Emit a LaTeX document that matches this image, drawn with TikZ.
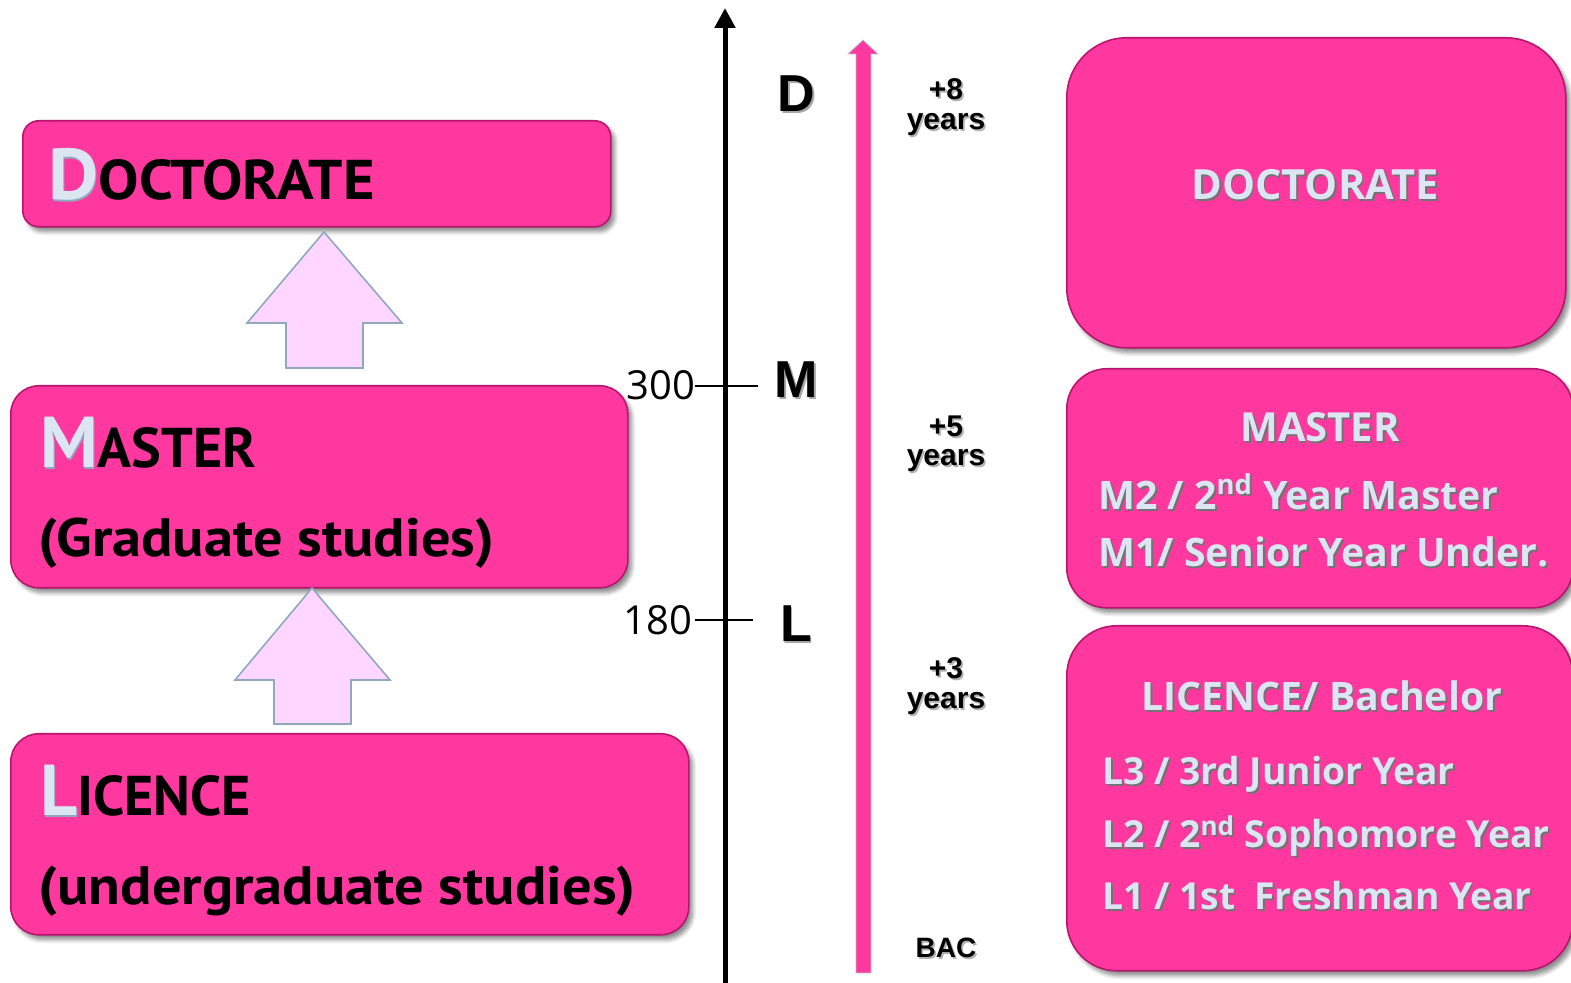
\documentclass[tikz,border=0pt]{standalone}
\usepackage{graphicx}
\usepackage{fontspec}
\setmainfont{PT Sans}
\newfontfamily\rfont{Open Sans}
\newfontfamily\afont{Liberation Sans}
\usetikzlibrary{shadows.blur,arrows.meta}
\definecolor{pinkfill}{HTML}{FF38A0}
\definecolor{pinkedge}{HTML}{B8156E}
\definecolor{lightletter}{HTML}{DCE6F2}
\definecolor{arrowfill}{HTML}{FFD6FF}
\definecolor{arrowedge}{HTML}{8FA8BE}
\newcommand\shtext[2][black!55]{\leavevmode\rlap{\kern0.9pt\raisebox{-0.9pt}{\textcolor{#1}{#2}}}#2}
\newcommand\initl[1]{\leavevmode\rlap{\kern0.6pt\raisebox{-0.6pt}{\textcolor{arrowedge}{#1}}}\textcolor{lightletter}{#1}}
\newcommand\fs[1]{\fontsize{#1}{#1}\selectfont}
\newcommand\wide[1]{\scalebox{1.08}[1]{#1}}
\begin{document}
\begin{tikzpicture}[x=0.5pt,y=-0.5pt,
  pbox/.style={draw=pinkedge, line width=0.8pt, fill=pinkfill, inner sep=0pt, anchor=north west,
    blur shadow={shadow xshift=2pt, shadow yshift=-2.5pt, shadow blur steps=6, shadow opacity=45}},
  ltext/.style={inner sep=0pt, anchor=base west, font=\bfseries},
  rtext/.style={inner sep=0pt, font=\rfont\bfseries\fs{20}, text=lightletter},
  rsmall/.style={rtext, font=\rfont\bfseries\fs{18.6}},
  ttext/.style={inner sep=0pt, anchor=base, font=\afont\bfseries\fs{15}, align=center},
  bigarrow/.style={fill=arrowfill, draw=arrowedge, line width=0.8pt, line join=miter},
]
\useasboundingbox (0,0) rectangle (1571,983);

% ---------- left column ----------
\node[pbox, minimum width=294pt, minimum height=53pt, rounded corners=8pt] (ldoc) at (22,120) {};
\node[pbox, minimum width=308.5pt, minimum height=101pt, rounded corners=14pt] (lmas) at (10,385) {};
\node[pbox, minimum width=339pt, minimum height=100.5pt, rounded corners=14pt] (llic) at (10,733) {};

\node[ltext] (tdoc) at (48,200) {\wide{{\fs{36}\initl{D}}{\fs{28}OCTORATE}}};
\node[ltext] (tmas) at (40,468) {{\fs{36}\initl{M}}{\fs{28}ASTER}};
\node[ltext] (tgrad) at (38,557) {\wide{\fs{27}(Graduate studies)}};
\node[ltext] (tlic) at (40,816) {{\fs{36}\initl{L}}{\fs{28}ICENCE}};
\node[ltext] (tund) at (38,905) {\wide{\fs{27}(undergraduate studies)}};

% block arrows
\coordinate (a1tip) at (324,232);
\draw[bigarrow] (a1tip) -- (402,323) -- (363,323) -- (363,368) -- (286,368) -- (286,323) -- (247,323) -- cycle;
\coordinate (a2tip) at (312,588);
\draw[bigarrow] (a2tip) -- (390,680) -- (351,680) -- (351,724) -- (274,724) -- (274,680) -- (235,680) -- cycle;

% ---------- timeline ----------
\coordinate (axbot) at (725,983);
\coordinate (axtop) at (725,8);
\draw[line width=2.5pt, -{Triangle[length=10pt,width=10pt]}] (axbot) -- (axtop);

\coordinate (t300a) at (695,386);
\coordinate (t300b) at (758,386);
\draw[line width=1pt] (t300a) -- (t300b);
\coordinate (t180a) at (695,620);
\coordinate (t180b) at (753,620);
\draw[line width=1pt] (t180a) -- (t180b);

\node[inner sep=0pt, anchor=base east, font=\rfont\fs{20}] (n300) at (696,400) {300};
\node[inner sep=0pt, anchor=base east, font=\rfont\fs{20}] (n180) at (693,635) {180};

\node[ttext, font=\afont\bfseries\fs{26}] (lD) at (796,112) {\shtext[black!35]{D}};
\node[ttext, font=\afont\bfseries\fs{26}] (lM) at (796,398) {\shtext[black!35]{M}};
\node[ttext, font=\afont\bfseries\fs{26}] (lL) at (796,642) {\shtext[black!35]{L}};

% pink arrow
\coordinate (pbot) at (863,973);
\coordinate (ptip) at (863,40);
\draw[fill=pinkfill, draw=arrowedge!70, line width=0.4pt] (856,973) -- (856,54) -- (848,54) -- (ptip) -- (878,54) -- (871,54) -- (871,973) -- cycle;

\node[ttext] (y8a) at (946,100) {\shtext[black!30]{+8}};
\node[ttext] (y8b) at (946,130) {\shtext[black!30]{years}};
\node[ttext] (y5a) at (946,437) {\shtext[black!30]{+5}};
\node[ttext] (y5b) at (946,466) {\shtext[black!30]{years}};
\node[ttext] (y3a) at (946,679) {\shtext[black!30]{+3}};
\node[ttext] (y3b) at (946,709) {\shtext[black!30]{years}};
\node[ttext, font=\afont\bfseries\fs{14}] (bac) at (946,958) {\shtext[black!30]{BAC}};

% ---------- right column ----------
\node[pbox, minimum width=249.5pt, minimum height=155pt, rounded corners=30pt] (rdoc) at (1066,37) {};
\node[pbox, minimum width=253pt, minimum height=119.5pt, rounded corners=20pt] (rmas) at (1066,368) {};
\node[pbox, minimum width=253pt, minimum height=172.5pt, rounded corners=25pt] (rlic) at (1066,625) {};

\node[rtext, anchor=base, font=\rfont\bfseries\fs{20.8}] (rdoct) at (1315,200) {\shtext{DOCTORATE}};
\node[rtext, anchor=base] (rmast) at (1320,442) {\shtext{MASTER}};
\node[rtext, anchor=base west, font=\rfont\bfseries\fs{19.6}] (rm2) at (1098,510) {\shtext{M2 / 2\textsuperscript{nd} Year Master}};
\node[rtext, anchor=base west, font=\rfont\bfseries\fs{19.6}] (rm1) at (1098,567) {\shtext{M1/ Senior Year Under.}};
\node[rtext, anchor=base, font=\rfont\bfseries\fs{19.6}] (rlict) at (1322,711) {\shtext{LICENCE/ Bachelor}};
\node[rsmall, anchor=base west] (rl3) at (1102,785) {\shtext{L3 / 3rd Junior Year}};
\node[rsmall, anchor=base west] (rl2) at (1102,848) {\shtext{L2 / 2\textsuperscript{nd} Sophomore Year}};
\node[rsmall, anchor=base west] (rl1) at (1102,910) {\shtext{L1 / 1st\ \ Freshman Year}};
\end{tikzpicture}
\end{document}
